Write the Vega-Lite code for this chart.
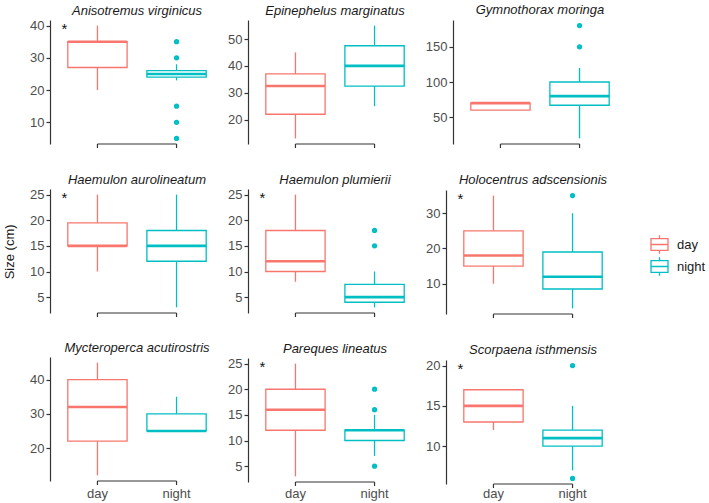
{
  "$schema": "https://vega.github.io/schema/vega-lite/v6.json",
  "background": "white",
  "padding": {"left": 3, "top": 3, "right": 5, "bottom": 2},
  "title": {"text": "Size (cm)", "orient": "left", "anchor": "middle", "fontSize": 13, "fontWeight": "normal", "font": "Liberation Sans", "color": "#1a1a1a", "offset": 13},
  "data": {"values": [
    {"species": "Anisotremus virginicus", "period": "day", "min": 20, "q1": 27, "median": 35, "q3": 35, "max": 40},
    {"species": "Anisotremus virginicus", "period": "night", "min": 23, "q1": 24, "median": 25, "q3": 26, "max": 28},
    {"species": "Anisotremus virginicus", "period": "night", "outlier": 35},
    {"species": "Anisotremus virginicus", "period": "night", "outlier": 30},
    {"species": "Anisotremus virginicus", "period": "night", "outlier": 15},
    {"species": "Anisotremus virginicus", "period": "night", "outlier": 10},
    {"species": "Anisotremus virginicus", "period": "night", "outlier": 5},
    {"species": "Anisotremus virginicus", "period": "day", "star": "*", "at": 40},
    {"species": "Epinephelus marginatus", "period": "day", "min": 13, "q1": 22, "median": 32.5, "q3": 37, "max": 45},
    {"species": "Epinephelus marginatus", "period": "night", "min": 25, "q1": 32.5, "median": 40, "q3": 47.5, "max": 55},
    {"species": "Gymnothorax moringa", "period": "day", "min": 60, "q1": 60, "median": 70, "q3": 70, "max": 70},
    {"species": "Gymnothorax moringa", "period": "night", "min": 20, "q1": 67, "median": 80, "q3": 100, "max": 120},
    {"species": "Gymnothorax moringa", "period": "night", "outlier": 150},
    {"species": "Gymnothorax moringa", "period": "night", "outlier": 180},
    {"species": "Haemulon aurolineatum", "period": "day", "min": 10, "q1": 15, "median": 15, "q3": 19.5, "max": 25},
    {"species": "Haemulon aurolineatum", "period": "night", "min": 3, "q1": 12, "median": 15, "q3": 18, "max": 25},
    {"species": "Haemulon aurolineatum", "period": "day", "star": "*", "at": 25},
    {"species": "Haemulon plumierii", "period": "day", "min": 8, "q1": 10, "median": 12, "q3": 18, "max": 25},
    {"species": "Haemulon plumierii", "period": "night", "min": 3, "q1": 4, "median": 5, "q3": 7.5, "max": 10},
    {"species": "Haemulon plumierii", "period": "night", "outlier": 15},
    {"species": "Haemulon plumierii", "period": "night", "outlier": 18},
    {"species": "Haemulon plumierii", "period": "day", "star": "*", "at": 25},
    {"species": "Holocentrus adscensionis", "period": "day", "min": 10, "q1": 15, "median": 18, "q3": 25, "max": 35},
    {"species": "Holocentrus adscensionis", "period": "night", "min": 3, "q1": 8.5, "median": 12, "q3": 19, "max": 30},
    {"species": "Holocentrus adscensionis", "period": "night", "outlier": 35},
    {"species": "Holocentrus adscensionis", "period": "day", "star": "*", "at": 35},
    {"species": "Mycteroperca acutirostris", "period": "day", "min": 12, "q1": 22, "median": 32, "q3": 40, "max": 45},
    {"species": "Mycteroperca acutirostris", "period": "night", "min": 25, "q1": 25, "median": 25, "q3": 30, "max": 35},
    {"species": "Pareques lineatus", "period": "day", "min": 3, "q1": 12, "median": 16, "q3": 20, "max": 25},
    {"species": "Pareques lineatus", "period": "night", "min": 7, "q1": 10, "median": 12, "q3": 12, "max": 15},
    {"species": "Pareques lineatus", "period": "night", "outlier": 5},
    {"species": "Pareques lineatus", "period": "night", "outlier": 16},
    {"species": "Pareques lineatus", "period": "night", "outlier": 20},
    {"species": "Pareques lineatus", "period": "day", "star": "*", "at": 25},
    {"species": "Scorpaena isthmensis", "period": "day", "min": 12, "q1": 13, "median": 15, "q3": 17, "max": 17},
    {"species": "Scorpaena isthmensis", "period": "night", "min": 7, "q1": 10, "median": 11, "q3": 12, "max": 15},
    {"species": "Scorpaena isthmensis", "period": "night", "outlier": 6},
    {"species": "Scorpaena isthmensis", "period": "night", "outlier": 20},
    {"species": "Scorpaena isthmensis", "period": "day", "star": "*", "at": 20}
  ]},
  "facet": {"field": "species", "type": "nominal", "header": {"title": null, "labelFontStyle": "italic", "labelFontSize": 13, "labelFont": "Liberation Sans", "labelColor": "#1a1a1a", "labelPadding": 2}},
  "columns": 3,
  "spacing": {"row": 24, "column": 3},
  "resolve": {"scale": {"y": "independent"}},
  "spec": {
    "width": 174,
    "height": 124,
    "encoding": {
      "x": {"field": "period", "type": "nominal", "title": null,
        "scale": {"domain": ["day", "night"], "paddingInner": 0.25, "paddingOuter": 0.225},
        "axis": {"domain": false, "ticks": false, "labelAngle": 0, "labelFontSize": 13, "labelFont": "Liberation Sans", "labelColor": "#4d4d4d", "labelPadding": -2}},
      "stroke": {"field": "period", "type": "nominal", "scale": {"domain": ["day", "night"], "range": ["#F8766D", "#00BFC4"]},
        "legend": {"title": null, "orient": "none", "legendX": 600, "legendY": 215, "symbolType": "M-1,-0.7H1V0.7H-1Z M-1,0H1 M0,-0.7V-1.1 M0,0.7V1.1", "symbolSize": 289, "symbolStrokeWidth": 1.3, "symbolFillColor": "white", "labelFontSize": 13, "labelFont": "Liberation Sans", "labelColor": "#1a1a1a", "rowPadding": -4, "labelOffset": 8}}
    },
    "layer": [
      {
        "transform": [{"filter": "isValid(datum.median)"}],
        "mark": {"type": "rule", "strokeWidth": 1.3},
        "encoding": {
          "y": {"field": "min", "type": "quantitative", "title": null,
            "scale": {"zero": false, "nice": false, "padding": 5.6},
            "axis": {"grid": false, "domainColor": "#333333", "domainWidth": 1.2, "tickColor": "#333333", "tickWidth": 1.2, "tickSize": 4, "labelFontSize": 13, "labelFont": "Liberation Sans", "labelColor": "#4d4d4d", "labelPadding": 2}},
          "y2": {"field": "max"}
        }
      },
      {
        "transform": [{"filter": "isValid(datum.median)"}],
        "mark": {"type": "bar", "fill": "white", "strokeWidth": 1.3},
        "encoding": {
          "y": {"field": "q1", "type": "quantitative"},
          "y2": {"field": "q3"}
        }
      },
      {
        "transform": [{"filter": "isValid(datum.median)"}],
        "mark": {"type": "bar", "fill": "white", "strokeWidth": 2.6},
        "encoding": {
          "y": {"field": "median", "type": "quantitative"},
          "y2": {"field": "median"}
        }
      },
      {
        "transform": [{"filter": "isValid(datum.outlier)"}],
        "mark": {"type": "point", "shape": "circle", "filled": false, "size": 6, "strokeWidth": 2.8, "opacity": 1},
        "encoding": {
          "y": {"field": "outlier", "type": "quantitative"}
        }
      },
      {
        "transform": [{"filter": "isValid(datum.median)"}],
        "mark": {"type": "line", "strokeWidth": 1.2},
        "encoding": {
          "y": {"value": "height"},
          "stroke": {"value": "#333333"}
        }
      },
      {
        "transform": [{"filter": "isValid(datum.median)"}],
        "mark": {"type": "rule", "strokeWidth": 1.2, "y2Offset": 4},
        "encoding": {
          "y": {"value": "height"},
          "y2": {"value": "height"},
          "stroke": {"value": "#333333"}
        }
      },
      {
        "transform": [{"filter": "isValid(datum.star)"}],
        "mark": {"type": "text", "fontSize": 15, "font": "Liberation Sans", "fill": "#111111", "dx": -33, "dy": 3, "baseline": "middle"},
        "encoding": {
          "y": {"field": "at", "type": "quantitative"},
          "text": {"field": "star"},
          "stroke": {"value": null}
        }
      }
    ]
  },
  "config": {"view": {"stroke": null}, "axis": {"titleFontWeight": "normal"}}
}
